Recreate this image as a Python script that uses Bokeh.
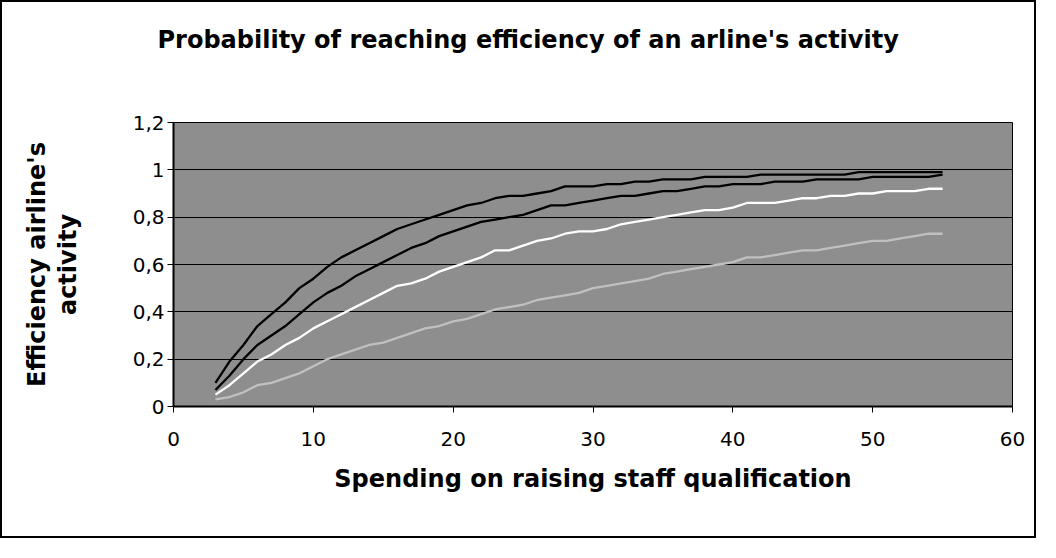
from bokeh.plotting import figure
from bokeh.models import Range1d, FixedTicker, Title
from bokeh.embed import file_html
from bokeh.resources import INLINE

# Spending on raising staff qualification (x) and the four efficiency series
spending = list(range(3, 56))
series_1 = [0.10, 0.19, 0.26, 0.34, 0.39, 0.44, 0.50, 0.54, 0.59, 0.63,
            0.66, 0.69, 0.72, 0.75, 0.77, 0.79, 0.81, 0.83, 0.85, 0.86,
            0.88, 0.89, 0.89, 0.90, 0.91, 0.93, 0.93, 0.93, 0.94, 0.94,
            0.95, 0.95, 0.96, 0.96, 0.96, 0.97, 0.97, 0.97, 0.97, 0.98,
            0.98, 0.98, 0.98, 0.98, 0.98, 0.98, 0.99, 0.99, 0.99, 0.99,
            0.99, 0.99, 0.99]
series_2 = [0.07, 0.13, 0.20, 0.26, 0.30, 0.34, 0.39, 0.44, 0.48, 0.51,
            0.55, 0.58, 0.61, 0.64, 0.67, 0.69, 0.72, 0.74, 0.76, 0.78,
            0.79, 0.80, 0.81, 0.83, 0.85, 0.85, 0.86, 0.87, 0.88, 0.89,
            0.89, 0.90, 0.91, 0.91, 0.92, 0.93, 0.93, 0.94, 0.94, 0.94,
            0.95, 0.95, 0.95, 0.96, 0.96, 0.96, 0.96, 0.97, 0.97, 0.97,
            0.97, 0.97, 0.98]
series_3 = [0.05, 0.09, 0.14, 0.19, 0.22, 0.26, 0.29, 0.33, 0.36, 0.39,
            0.42, 0.45, 0.48, 0.51, 0.52, 0.54, 0.57, 0.59, 0.61, 0.63,
            0.66, 0.66, 0.68, 0.70, 0.71, 0.73, 0.74, 0.74, 0.75, 0.77,
            0.78, 0.79, 0.80, 0.81, 0.82, 0.83, 0.83, 0.84, 0.86, 0.86,
            0.86, 0.87, 0.88, 0.88, 0.89, 0.89, 0.90, 0.90, 0.91, 0.91,
            0.91, 0.92, 0.92]
series_4 = [0.03, 0.04, 0.06, 0.09, 0.10, 0.12, 0.14, 0.17, 0.20, 0.22,
            0.24, 0.26, 0.27, 0.29, 0.31, 0.33, 0.34, 0.36, 0.37, 0.39,
            0.41, 0.42, 0.43, 0.45, 0.46, 0.47, 0.48, 0.50, 0.51, 0.52,
            0.53, 0.54, 0.56, 0.57, 0.58, 0.59, 0.60, 0.61, 0.63, 0.63,
            0.64, 0.65, 0.66, 0.66, 0.67, 0.68, 0.69, 0.70, 0.70, 0.71,
            0.72, 0.73, 0.73]

x_ticks = [0, 10, 20, 30, 40, 50, 60]
y_ticks = [0, 0.2, 0.4, 0.6, 0.8, 1.0, 1.2]
y_tick_labels = ["0", "0,2", "0,4", "0,6", "0,8", "1", "1,2"]

title_text = "Probability of reaching efficiency of an arline's activity"
x_label = "Spending on raising staff qualification"
y_label = "Efficiency airline's\nactivity"

FONT = "DejaVu Sans"

p = figure(width=1036, height=538, output_backend="svg", toolbar_location=None,
           x_range=Range1d(0, 60), y_range=Range1d(0, 1.2),
           min_border_left=171, min_border_right=26,
           min_border_bottom=134, min_border_top=10)
p.title.text = ""
p.styles = {"border": "2px solid black"}

# title + spacer
t = Title(text=title_text, text_font=FONT, text_font_size="24px",
          text_font_style="bold", text_color="black", align="left",
          offset=-16, standoff=42)
spacer = Title(text=" ", text_font_size="1px", standoff=45)
p.add_layout(spacer, "above")
p.add_layout(t, "above")

p.background_fill_color = "#8e8e8e"
p.border_fill_color = "white"
p.outline_line_color = "black"
p.outline_line_width = 1

for ys, col in [(series_1, "black"), (series_2, "black"),
                (series_3, "white"), (series_4, "#c0c0c0")]:
    p.line(spending, ys, line_color=col, line_width=2.3)

p.xgrid.visible = False
p.ygrid.ticker = FixedTicker(ticks=y_ticks)
p.ygrid.grid_line_color = "black"
p.ygrid.grid_line_width = 1

p.xaxis.ticker = FixedTicker(ticks=x_ticks)
p.yaxis.ticker = FixedTicker(ticks=y_ticks)
p.yaxis.major_label_overrides = dict(zip(y_ticks, y_tick_labels))

for ax in (p.xaxis, p.yaxis):
    ax.axis_line_color = "black"
    ax.axis_line_width = 2
    ax.major_tick_line_color = "black"
    ax.major_tick_line_width = 1
    ax.major_tick_in = 0
    ax.major_tick_out = 6
    ax.minor_tick_line_color = None
    ax.major_label_text_font = FONT
    ax.major_label_text_font_size = "20px"
    ax.major_label_text_color = "black"
    ax.axis_label_text_font = FONT
    ax.axis_label_text_font_size = "24px"
    ax.axis_label_text_font_style = "bold"
    ax.axis_label_text_color = "black"

p.xaxis.axis_label = x_label
p.xaxis.major_label_standoff = 19
p.xaxis.axis_label_standoff = 16
p.yaxis.axis_label = y_label
p.yaxis.axis_label_text_line_height = 1.1
p.yaxis.major_label_standoff = 3
p.yaxis.axis_label_standoff = 48

open("out.html", "w").write(file_html(p, INLINE))
